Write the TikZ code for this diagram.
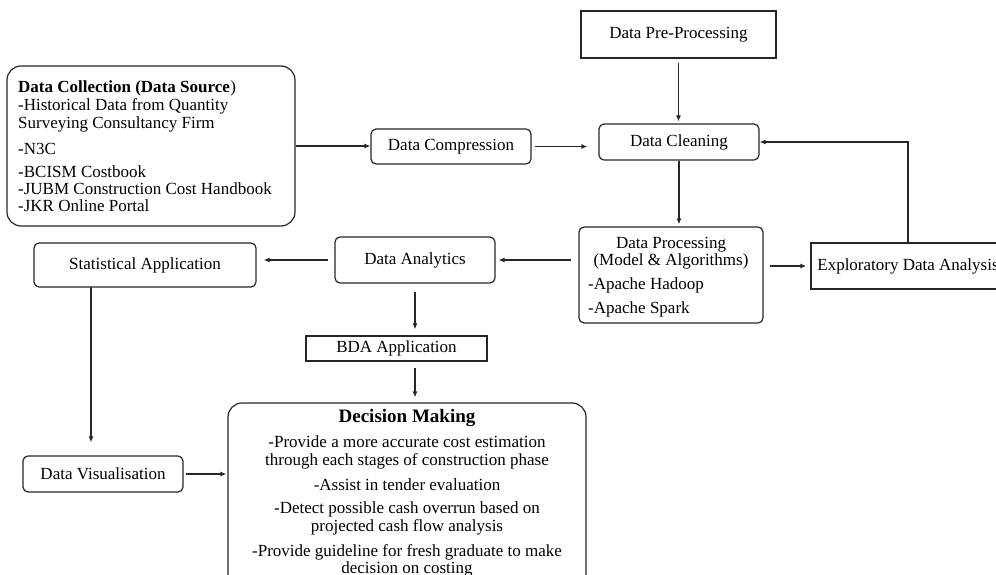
\documentclass[tikz,border=0pt]{standalone}
\usepackage{fontspec}
\setmainfont{Liberation Serif}
\usetikzlibrary{arrows.meta}
\begin{document}
\begin{tikzpicture}[x=1pt,y=-1pt,
  box/.style={draw=black!85, line width=1.2pt, inner sep=0pt, font=\fontsize{17}{17}\selectfont},
  rbox/.style={box, rounded corners=5pt},
  bigbox/.style={box, rounded corners=14pt},
  arr/.style={draw=black!85, line width=1.2pt, -{Latex[length=6pt,width=5pt]}},
  txt/.style={inner sep=0pt, anchor=base, font=\fontsize{17}{17}\selectfont},
  ltxt/.style={txt, anchor=base west},
]
\useasboundingbox (0,0) rectangle (996,575);
\clip (0,0) rectangle (996,575);

% boxes
\node[box, minimum width=195pt, minimum height=47pt] (pre) at (678.5,34.5) {Data Pre-Processing};
\node[bigbox, minimum width=288pt, minimum height=160pt] (coll) at (151,146) {};
\node[rbox, minimum width=160pt, minimum height=35pt] (comp) at (451,146.5) {Data Compression};
\node[rbox, minimum width=160pt, minimum height=36pt] (clean) at (679,142) {Data Cleaning};
\node[rbox, minimum width=184pt, minimum height=96pt] (proc) at (671,275) {};
\node[box, minimum width=194pt, minimum height=46pt] (eda) at (908,266) {Exploratory Data Analysis};
\node[rbox, minimum width=160pt, minimum height=46pt] (an) at (415,260) {Data Analytics};
\node[rbox, minimum width=222pt, minimum height=44pt] (stat) at (145,265) {Statistical Application};
\node[box, minimum width=181pt, minimum height=25pt] (bda) at (396.5,348.5) {BDA Application};
\node[rbox, minimum width=160pt, minimum height=36pt] (vis) at (103,474) {Data Visualisation};
\node[bigbox, minimum width=358pt, minimum height=190pt] (dm) at (407,498) {};

% Data Collection text
\node[ltxt] (c1) at (18,93) {\textbf{Data Collection (Data Source}\kern0.5pt)};
\node[ltxt] (c2) at (18,111) {-Historical Data from Quantity};
\node[ltxt] (c3) at (18,129) {Surveying Consultancy Firm};
\node[ltxt] (c4) at (18,154) {-N3C};
\node[ltxt] (c5) at (18,177) {-BCISM Costbook};
\node[ltxt] (c6) at (18,194) {-JUBM Construction Cost Handbook};
\node[ltxt] (c7) at (18,211) {-JKR Online Portal};

% Data Processing text
\node[txt] (p1) at (671,248) {Data Processing};
\node[txt] (p2) at (671,265) {(Model \& Algorithms)};
\node[ltxt] (p3) at (588,289) {-Apache Hadoop};
\node[ltxt] (p4) at (588,313) {-Apache Spark};

% Decision Making text
\node[txt, font=\fontsize{19}{19}\selectfont\bfseries] (d0) at (407,422) {Decision Making};
\node[txt] (d1) at (407,447) {-Provide a more accurate cost estimation};
\node[txt] (d2) at (407,465) {through each stages of construction phase};
\node[txt] (d3) at (407,490) {-Assist in tender evaluation};
\node[txt] (d4) at (407,513) {-Detect possible cash overrun based on};
\node[txt] (d5) at (407,531) {projected cash flow analysis};
\node[txt] (d6) at (407,556) {-Provide guideline for fresh graduate to make};
\node[txt] (d7) at (407,573) {decision on costing};

% connectors
\draw[arr] (coll.east) -- (coll.east -| comp.west);
\draw[arr, shorten <=3pt, shorten >=11pt] (comp.east) -- (comp.east -| clean.west);
\draw[arr, shorten <=4pt, shorten >=2pt] (pre.south) -- (pre.south |- clean.north);
\draw[arr, shorten >=2pt] (clean.south) -- (clean.south |- proc.north);
\draw[arr, shorten <=6pt, shorten >=4pt] (proc.east |- eda.west) -- (eda.west);
\draw[arr] (eda.north) |- (clean.east);
\draw[arr, shorten <=7pt, shorten >=3pt] (proc.west |- an.east) -- (an.east);
\draw[arr, shorten <=6pt, shorten >=7pt] (an.west) -- (an.west -| stat.east);
\draw[arr, shorten <=8pt, shorten >=6pt] (an.south) -- (an.south |- bda.north);
\draw[arr, shorten <=6pt, shorten >=5pt] (an.south |- bda.south) -- (an.south |- dm.north);
\coordinate (sd) at (91,287);
\draw[arr, shorten >=13pt] (sd) -- (sd |- vis.north);
\draw[arr, shorten <=2pt, shorten >=1pt] (vis.east) -- (vis.east -| dm.west);
\end{tikzpicture}
\end{document}
